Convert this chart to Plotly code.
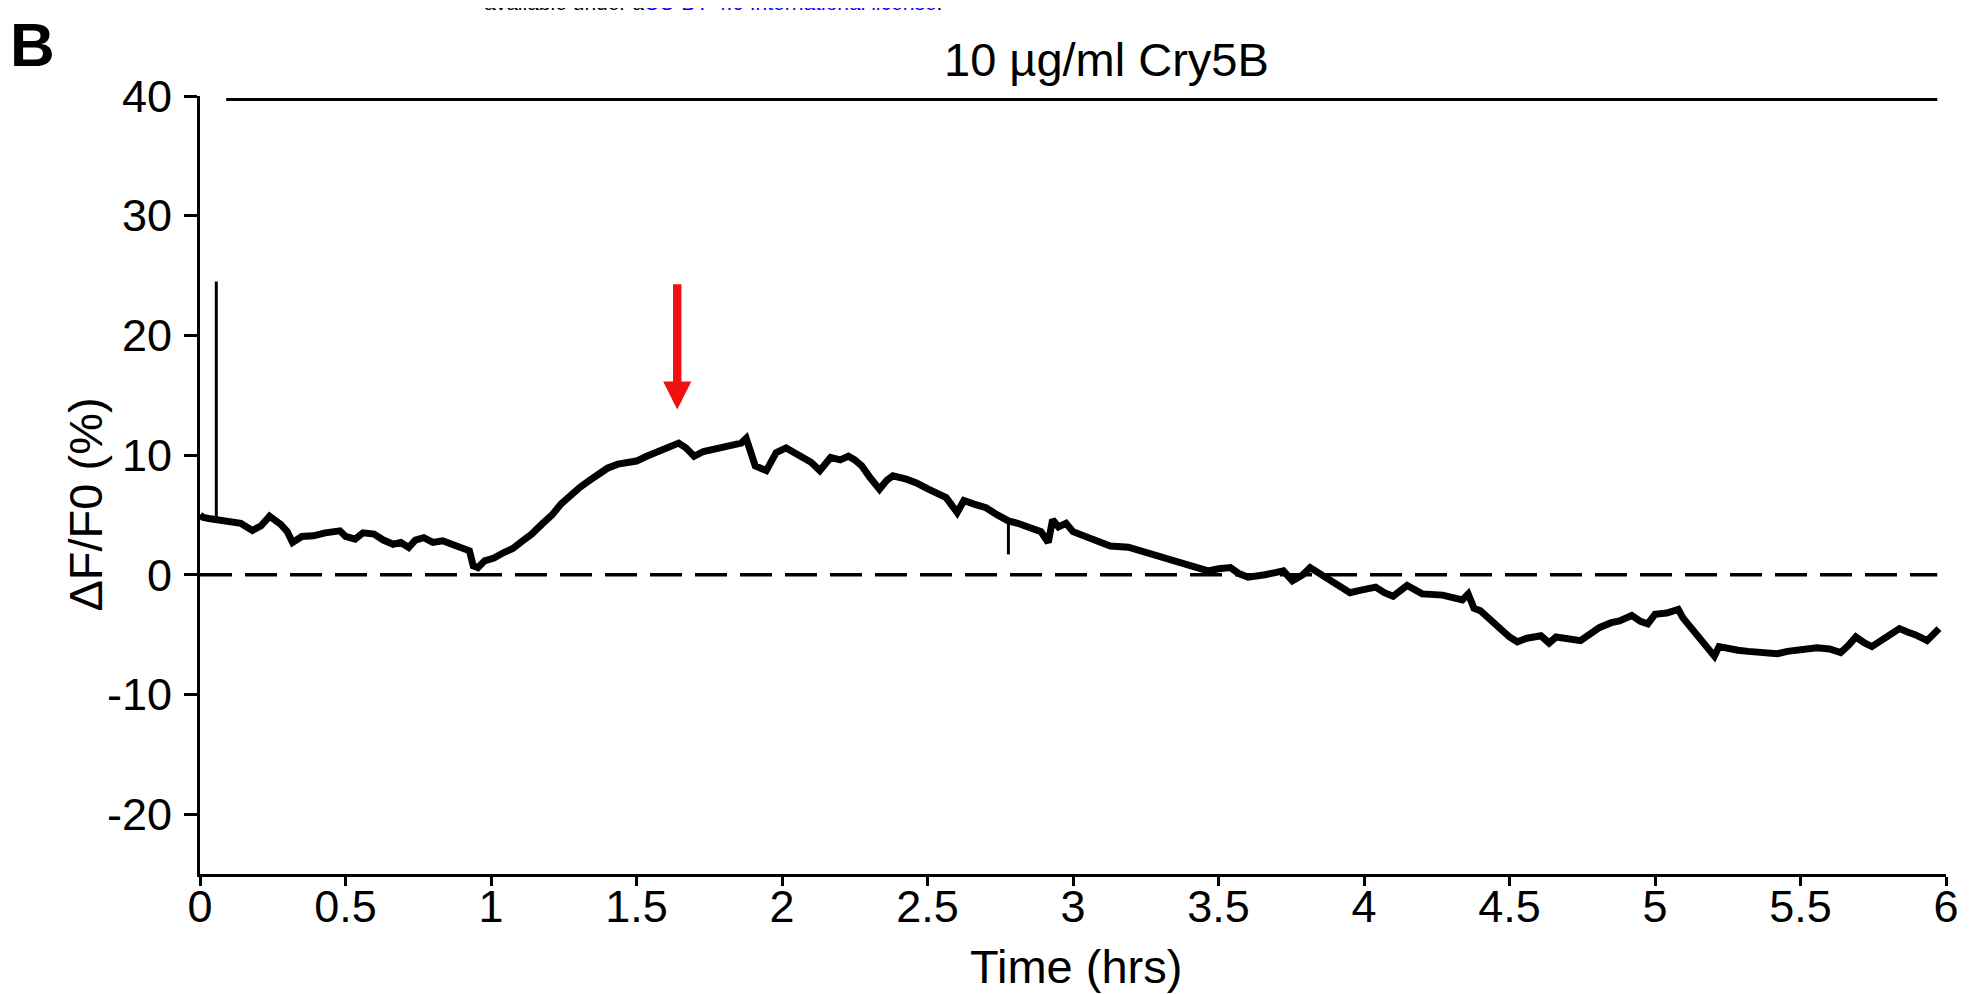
import plotly.graph_objects as go

# ---------------- data ----------------
time_hrs = [
    0.00, 0.01, 0.03, 0.056, 0.10, 0.14, 0.18, 0.21, 0.239, 0.26, 0.278, 0.30, 0.318, 0.35, 0.39, 0.43,
    0.481, 0.50, 0.533, 0.56, 0.598, 0.63, 0.664, 0.69, 0.717, 0.74, 0.769, 0.80, 0.834, 0.87, 0.90,
    0.926, 0.939, 0.955, 0.978, 1.01, 1.044, 1.075, 1.109, 1.14, 1.175, 1.21, 1.24, 1.27, 1.305, 1.34,
    1.371, 1.40, 1.436, 1.47, 1.50, 1.535, 1.567, 1.60, 1.645, 1.67, 1.698, 1.73, 1.763, 1.80, 1.829,
    1.86, 1.877, 1.908, 1.946, 1.98, 2.014, 2.045, 2.075, 2.10, 2.13, 2.167, 2.20, 2.228, 2.25, 2.274,
    2.30, 2.335, 2.36, 2.381, 2.427, 2.46, 2.503, 2.53, 2.564, 2.602, 2.625, 2.66, 2.701, 2.74, 2.778,
    2.81, 2.854, 2.89, 2.915, 2.93, 2.95, 2.976, 3.0, 3.036, 3.08, 3.128, 3.19, 3.23, 3.281, 3.33,
    3.388, 3.43, 3.464, 3.50, 3.541, 3.57, 3.602, 3.66, 3.723, 3.754, 3.79, 3.815, 3.85, 3.877, 3.92,
    3.952, 3.986, 4.04, 4.07, 4.10, 4.148, 4.20, 4.27, 4.338, 4.358, 4.378, 4.40, 4.419, 4.45, 4.473,
    4.50, 4.527, 4.56, 4.608, 4.636, 4.66, 4.69, 4.744, 4.78, 4.81, 4.85, 4.878, 4.92, 4.95, 4.975,
    5.0, 5.04, 5.08, 5.096, 5.12, 5.15, 5.18, 5.204, 5.22, 5.25, 5.285, 5.32, 5.355, 5.39, 5.42,
    5.455, 5.487, 5.52, 5.556, 5.60, 5.638, 5.665, 5.69, 5.72, 5.745, 5.77, 5.80, 5.84, 5.87, 5.894,
    5.935, 5.955, 5.976,
]
dff_pct = [
    5.0, 4.8, 4.7, 4.6, 4.5, 4.3, 3.7, 4.1, 4.9, 4.6, 4.2, 3.6, 2.7, 3.2, 3.25, 3.5,
    3.67, 3.2, 2.97, 3.5, 3.4, 2.9, 2.55, 2.7, 2.28, 2.9, 3.1, 2.7, 2.84, 2.5, 2.28,
    2.0, 0.75, 0.6, 1.17, 1.4, 1.86, 2.2, 2.84, 3.4, 4.23, 5.0, 5.9, 6.6, 7.3, 7.9,
    8.4, 8.9, 9.24, 9.4, 9.5, 9.9, 10.2, 10.5, 11.0, 10.6, 9.9, 10.3, 10.5, 10.6, 10.8,
    11.0, 11.4, 9.1, 8.7, 10.2, 10.6, 10.2, 9.8, 9.4, 8.7, 9.8, 9.6, 9.9, 9.6, 9.1,
    8.2, 7.15, 7.9, 8.26, 7.99, 7.7, 7.15, 6.9, 6.45, 5.2, 6.2, 5.9, 5.6, 5.0, 4.5,
    4.3, 3.95, 3.6, 2.7, 4.6, 4.0, 4.3, 3.6, 3.26, 2.9, 2.4, 2.3, 2.0, 1.7, 1.3,
    0.9, 0.6, 0.33, 0.5, 0.6, 0.1, -0.2, 0.0, 0.33, -0.5, 0.0, 0.6, 0.1, -0.35, -0.9,
    -1.5, -1.3, -1.03, -1.5, -1.8, -0.9, -1.6, -1.7, -2.1, -1.6, -2.8, -3.0, -3.4, -4.1, -4.7,
    -5.2, -5.6, -5.3, -5.1, -5.7, -5.2, -5.3, -5.5, -4.9, -4.4, -4.0, -3.85, -3.4, -3.9, -4.1,
    -3.3, -3.2, -2.9, -3.6, -4.3, -5.0, -5.9, -6.8, -6.0, -6.2, -6.3, -6.4, -6.5, -6.5, -6.6,
    -6.4, -6.3, -6.2, -6.1, -6.2, -6.5, -5.9, -5.2, -5.7, -6.0, -5.6, -5.1, -4.5, -4.8, -5.0,
    -5.5, -4.9, -4.5,
]

# brief artefact spikes (time, base value, tip value)
spike_time = [0.056, 2.778]
spike_base = [4.6, 4.3]
spike_tip = [24.5, 1.7]

# treatment bar and baseline
treatment_label = "10 µg/ml Cry5B"
treatment_start, treatment_end, treatment_level = 0.09, 5.97, 39.7
baseline_value = 0.0
baseline_end = 5.97

# red arrow (time, top of arrow, tip of arrow)
arrow_time, arrow_top, arrow_tip = 1.64, 24.4, 13.8

x_tickvals = [0, 0.5, 1, 1.5, 2, 2.5, 3, 3.5, 4, 4.5, 5, 5.5, 6]
x_ticktext = ["0", "0.5", "1", "1.5", "2", "2.5", "3", "3.5", "4", "4.5", "5", "5.5", "6"]
y_tickvals = [-20, -10, 0, 10, 20, 30, 40]
y_ticktext = ["-20", "-10", "0", "10", "20", "30", "40"]

# ---------------- layout geometry ----------------
FONT = "Liberation Sans, Arial, Helvetica, sans-serif"
W, H = 1963, 986          # page has an 8px body margin
ML, MR, MT, MB = 192, 16, 88, 120
PAGE_OFF = 8
PLOT_L = ML + PAGE_OFF
PLOT_B = H - MB + PAGE_OFF
PLOT_W = W - ML - MR
PLOT_H = H - MT - MB


def px(page_x):
    return (page_x - PLOT_L) / PLOT_W


def py(page_y):
    return (PLOT_B - page_y) / PLOT_H


fig = go.Figure()

# baseline dashed
fig.add_trace(go.Scatter(
    x=[0, baseline_end], y=[baseline_value, baseline_value], mode="lines",
    line=dict(color="black", width=3.5, dash="32px,13px"), hoverinfo="skip", showlegend=False))

# treatment bar
fig.add_trace(go.Scatter(
    x=[treatment_start, treatment_end], y=[treatment_level, treatment_level], mode="lines",
    line=dict(color="black", width=3), hoverinfo="skip", showlegend=False, cliponaxis=False))

# spikes
sx, sy = [], []
for t, b, tip in zip(spike_time, spike_base, spike_tip):
    sx += [t, t, None]
    sy += [b, tip, None]
fig.add_trace(go.Scatter(x=sx, y=sy, mode="lines", line=dict(color="black", width=3),
                         hoverinfo="skip", showlegend=False))

# main trace
fig.add_trace(go.Scatter(x=time_hrs, y=dff_pct, mode="lines",
                         line=dict(color="black", width=7), showlegend=False))

annotations = [
    # red arrow
    dict(x=arrow_time, y=arrow_tip, ax=arrow_time, ay=arrow_top, xref="x", yref="y",
         axref="x", ayref="y", text="", showarrow=True, arrowhead=2, arrowsize=0.67,
         arrowwidth=8.4, arrowcolor="#f01010", standoff=0),
    # treatment label
    dict(x=px(1111), y=py(60), xref="paper", yref="paper", text=treatment_label,
         showarrow=False, font=dict(family=FONT, size=47, color="black"),
         xanchor="center", yanchor="middle"),
    # panel letter
    dict(x=px(32), y=py(44), xref="paper", yref="paper", text="<b>B</b>",
         showarrow=False, font=dict(family=FONT, size=62, color="black"),
         xanchor="center", yanchor="middle"),
    # y title
    dict(x=px(84), y=py(505), xref="paper", yref="paper", text="ΔF/F0 (%)", textangle=-90,
         showarrow=False, font=dict(family=FONT, size=47, color="black"),
         xanchor="center", yanchor="middle"),
    # x title
    dict(x=px(1081), y=py(966), xref="paper", yref="paper", text="Time (hrs)",
         showarrow=False, font=dict(family=FONT, size=47, color="black"),
         xanchor="center", yanchor="middle"),
    # cut-off header text
    dict(x=px(716), y=py(2), xref="paper", yref="paper",
         text='available under a<span style="color:#0000ff">CC-BY 4.0 International license</span>.',
         showarrow=False, font=dict(family=FONT, size=21, color="black"),
         xanchor="center", yanchor="middle"),
]

fig.update_layout(
    width=W, height=H,
    margin=dict(l=ML, r=MR, t=MT, b=MB, pad=0),
    paper_bgcolor="white", plot_bgcolor="white",
    font=dict(family=FONT, color="black"),
    annotations=annotations,
    showlegend=False,
)
fig.update_xaxes(
    range=[0, 6], tickmode="array", tickvals=x_tickvals, ticktext=x_ticktext,
    showgrid=False, zeroline=False, showline=True, linecolor="black", linewidth=3,
    ticks="outside", ticklen=9, tickwidth=3, tickcolor="black",
    tickfont=dict(family=FONT, size=45, color="black"), ticklabelstandoff=-18,
)
fig.update_yaxes(
    range=[-25, 40], tickmode="array", tickvals=y_tickvals, ticktext=y_ticktext,
    showgrid=False, zeroline=False, showline=True, linecolor="black", linewidth=3,
    ticks="outside", ticklen=13, tickwidth=3, tickcolor="black",
    tickfont=dict(family=FONT, size=45, color="black"), ticklabelstandoff=3,
)

fig.write_html("out.html")
